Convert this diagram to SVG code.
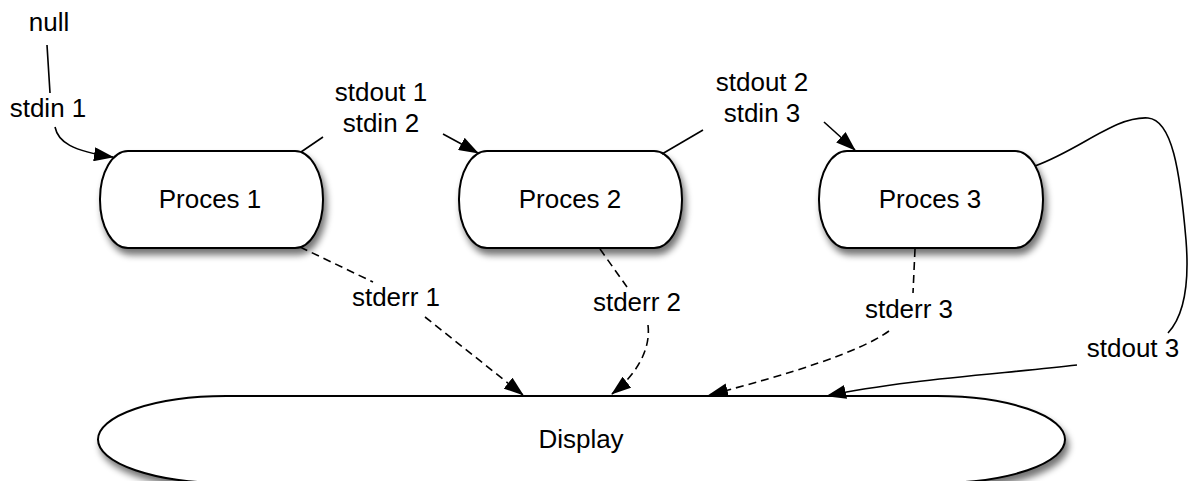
<svg xmlns="http://www.w3.org/2000/svg" width="1189" height="481" viewBox="0 0 1189 481">
<style>
text{font-family:"Liberation Sans",Arial,Helvetica,sans-serif;font-size:26px;fill:#000;text-anchor:middle}
.shape{fill:#fff;stroke:#000;stroke-width:2;filter:url(#sh)}
.edge{fill:none;stroke:#000;stroke-width:1.6}
.dash{stroke-dasharray:8 5}
.arr{marker-end:url(#arr)}
</style>
<defs>
<marker id="arr" viewBox="0 0 20 14" refX="19" refY="7" markerWidth="20" markerHeight="14" markerUnits="userSpaceOnUse" orient="auto">
<path d="M0,0 L20,7 L0,14 z" fill="#000"/>
</marker>
<filter id="sh" x="-10%" y="-20%" width="130%" height="160%">
<feGaussianBlur in="SourceAlpha" stdDeviation="3.5"/>
<feOffset dx="3" dy="6" result="b"/>
<feComponentTransfer><feFuncA type="linear" slope="0.55"/></feComponentTransfer>
<feMerge><feMergeNode/><feMergeNode in="SourceGraphic"/></feMerge>
</filter>
</defs>

<g id="display">
<rect class="shape" x="98" y="396" width="967" height="87" rx="128" ry="43.5"/>
<text x="581" y="448">Display</text>
</g>

<g id="proces1">
<rect class="shape" x="100" y="151" width="223" height="97" rx="28" ry="48"/>
<text x="210" y="208">Proces 1</text>
</g>
<g id="proces2">
<rect class="shape" x="459" y="151" width="223" height="97" rx="28" ry="48"/>
<text x="570" y="208">Proces 2</text>
</g>
<g id="proces3">
<rect class="shape" x="819" y="151" width="224" height="97" rx="28" ry="48"/>
<text x="930" y="208">Proces 3</text>
</g>

<g id="null">
<text x="49" y="31">null</text>
</g>

<g id="connectors">
<!-- null -> Proces 1 -->
<path class="edge" d="M47,45 L50,93"/>
<path class="edge arr" d="M55,127 C58,142 72,151 113,157"/>
<text x="48" y="117">stdin 1</text>

<!-- Proces 1 -> Proces 2 -->
<path class="edge" d="M301,152 L323,137"/>
<path class="edge arr" d="M443,134 L478,153"/>
<text x="381" y="101">stdout 1</text>
<text x="381" y="132">stdin 2</text>

<!-- Proces 2 -> Proces 3 -->
<path class="edge" d="M662,154 L703,130"/>
<path class="edge arr" d="M824,122 L855,150"/>
<text x="762" y="91">stdout 2</text>
<text x="762" y="122">stdin 3</text>

<!-- Proces 3 -> Display (stdout 3) -->
<path class="edge" d="M1035,166 C1080,150 1115,116 1148,118 C1172,120 1180,170 1186,240 C1190,290 1182,318 1168,333"/>
<path class="edge arr" d="M1077,365 C1000,374 900,380 827,396"/>
<text x="1133" y="357">stdout 3</text>

<!-- stderr 1 -->
<path class="edge dash" d="M300,247 L373,282"/>
<path class="edge dash arr" d="M425,317 L523,395"/>
<text x="396" y="306">stderr 1</text>

<!-- stderr 2 -->
<path class="edge dash" d="M600,249 L627,287"/>
<path class="edge dash arr" d="M648,325 C651,350 636,375 612,394"/>
<text x="637" y="311">stderr 2</text>

<!-- stderr 3 -->
<path class="edge dash" d="M915,249 L913,293"/>
<path class="edge dash arr" d="M889,331 C860,352 790,374 709,395"/>
<text x="909" y="318">stderr 3</text>
</g>
</svg>
